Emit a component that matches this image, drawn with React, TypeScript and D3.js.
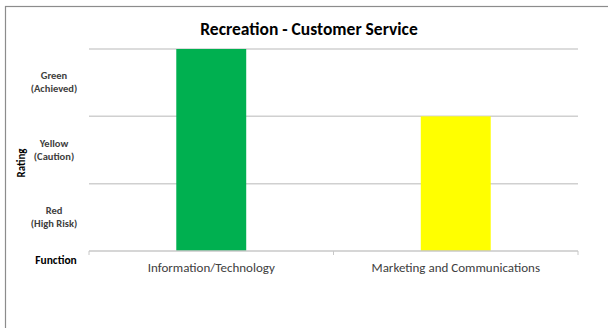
import React from "react";
import * as d3 from "d3";

const categories = ["Information/Technology", "Marketing and Communications"];
const ratings = [3, 2];
const barColors = ["#00B050", "#FFFF00"];
const ratingLabels = [
  ["Red", "(High Risk)"],
  ["Yellow", "(Caution)"],
  ["Green", "(Achieved)"],
];
const title = "Recreation - Customer Service";

export default function App() {
  const W = 608, H = 328;
  const left = 89, right = 578, top = 49, bottom = 251;
  const x = d3.scaleBand<string>().domain(categories).range([left, right]).padding(0);
  const y = d3.scaleLinear().domain([0, 3]).range([bottom, top]);
  const barFrac = 0.286;
  const font = "Carlito, Calibri, 'Open Sans', sans-serif";
  const gridVals = [1, 2, 3];
  const tickXs = [left, ...categories.map((c) => (x(c) as number) + x.bandwidth())];
  return (
    <div style={{ position: "absolute", left: 0, top: 0 }}>
      <svg width={W} height={H} style={{ display: "block" }} fontFamily={font}>
        <rect x={0} y={0} width={W} height={H} fill="#fff" />
        <rect x={5.5} y={6.5} width={W + 10} height={H + 10} fill="#fff" stroke="#8c8c8c" strokeWidth={1.2} />
        <text x={309} y={35} textAnchor="middle" fontSize={17.5} fontWeight="bold" fill="#000">{title}</text>
        {gridVals.map((v) => (
          <line key={v} x1={left} x2={right} y1={y(v)} y2={y(v)} stroke="#d0d0d0" strokeWidth={1.5} />
        ))}
        {categories.map((c, i) => {
          const bw = x.bandwidth() * barFrac;
          const cx = (x(c) as number) + x.bandwidth() / 2;
          return (
            <rect key={c} x={cx - bw / 2} y={y(ratings[i])} width={bw} height={y(0) - y(ratings[i])} fill={barColors[i]} />
          );
        })}
        <line x1={left} x2={right} y1={y(0)} y2={y(0)} stroke="#c8c8c8" strokeWidth={1.5} />
        {tickXs.map((tx, i) => (
          <line key={i} x1={tx} x2={tx} y1={y(0)} y2={y(0) + 4} stroke="#c8c8c8" strokeWidth={1} />
        ))}
        {categories.map((c) => (
          <text key={c} x={(x(c) as number) + x.bandwidth() / 2} y={272} textAnchor="middle" fontSize={13} fill="#404040">{c}</text>
        ))}
        {ratingLabels.map((lab, i) => {
          const cy = (y(i) + y(i + 1)) / 2;
          return (
            <text key={i} x={54} textAnchor="middle" fontSize={10.5} fontWeight="bold" fill="#404040">
              <tspan x={54} y={cy - 3.5}>{lab[0]}</tspan>
              <tspan x={54} y={cy + 9.5}>{lab[1]}</tspan>
            </text>
          );
        })}
        <text x={56} y={264} textAnchor="middle" fontSize={11.5} fontWeight="bold" fill="#000">Function</text>
        <text transform="translate(25,163) rotate(-90)" textAnchor="middle" fontSize={11} fontWeight="bold" fill="#000">Rating</text>
      </svg>
    </div>
  );
}
